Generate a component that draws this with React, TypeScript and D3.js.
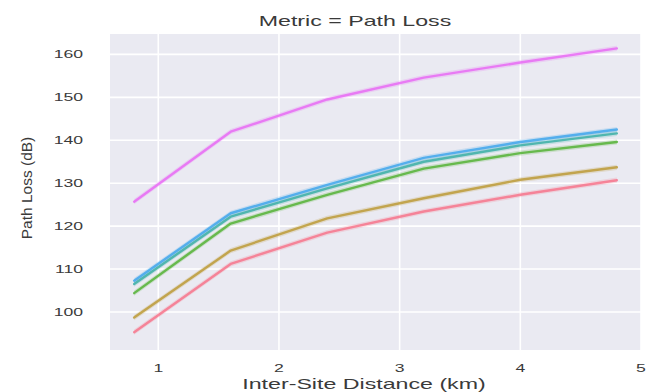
import React from "react";
import * as d3 from "d3";

const distances = [0.8, 1.6, 2.4, 3.2, 4.0, 4.8];
const seriesNames = ["s1", "s2", "s3", "s4", "s5", "s6"];
const redVals = [95.3, 111.2, 118.5, 123.4, 127.3, 130.7];
const oliveVals = [98.7, 114.3, 121.8, 126.5, 130.8, 133.7];
const greenVals = [104.4, 120.6, 127.3, 133.4, 137.0, 139.6];
const tealVals = [106.5, 122.2, 128.8, 135.0, 138.8, 141.6];
const blueVals = [107.3, 123.0, 129.6, 135.9, 139.6, 142.5];
const magentaVals = [125.7, 142.0, 149.5, 154.6, 158.1, 161.4];
const seriesValues = [redVals, oliveVals, greenVals, tealVals, blueVals, magentaVals];
const seriesColors = ["#f77189", "#bb9832", "#50b131", "#36ada4", "#3ba3ec", "#e866f4"];
const xTicks = [1, 2, 3, 4, 5];
const yTicks = [100, 110, 120, 130, 140, 150, 160];
const title = "Metric = Path Loss";
const xLabel = "Inter-Site Distance (km)";
const yLabel = "Path Loss (dB)";

const W = 646;
const H = 392;
const left = 110;
const right = 641;
const top = 34;
const bottom = 350;
const SX = 1.6;
const FONT = "'Liberation Sans', Arial, sans-serif";
const TXT = "#3a3a3a";

export default function App() {
  const x = d3.scaleLinear().domain([0.6, 5.0]).range([left, right]);
  const y = d3.scaleLinear().domain([91.15, 164.75]).range([bottom, top]);
  const line = d3
    .line<number>()
    .x((_, i) => x(distances[i]))
    .y((d) => y(d));
  const band = d3
    .area<number>()
    .x((_, i) => x(distances[i]))
    .y0((d) => y(d - 0.6))
    .y1((d) => y(d + 0.6));

  return (
    <svg
      width={W}
      height={H}
      style={{ position: "absolute", left: 0, top: 0, background: "#fff" }}
      fontFamily={FONT}
    >
      <defs>
        <clipPath id="plotclip">
          <rect x={left} y={top} width={right - left} height={bottom - top} />
        </clipPath>
      </defs>
      <rect x={left} y={top} width={right - left} height={bottom - top} fill="#EAEAF2" />
      {xTicks.map((t) => (
        <line key={"gx" + t} x1={x(t)} x2={x(t)} y1={top} y2={bottom} stroke="#fff" strokeWidth={1.6} />
      ))}
      {yTicks.map((t) => (
        <line key={"gy" + t} x1={left} x2={right} y1={y(t)} y2={y(t)} stroke="#fff" strokeWidth={1.6} />
      ))}
      <g clipPath="url(#plotclip)">
        {seriesValues.map((vals, i) => (
          <path key={"b" + seriesNames[i]} d={band(vals) || ""} fill={seriesColors[i]} opacity={0.2} />
        ))}
        {seriesValues.map((vals, i) => (
          <path
            key={"l" + seriesNames[i]}
            d={line(vals) || ""}
            fill="none"
            stroke={seriesColors[i]}
            strokeWidth={2.4}
            strokeOpacity={0.82}
            strokeLinejoin="round"
            strokeLinecap="round"
          />
        ))}
      </g>
      {yTicks.map((t) => (
        <text
          key={"ty" + t}
          transform={`translate(83,${y(t) + 4}) scale(${SX},1)`}
          textAnchor="end"
          fontSize={11}
          fill={TXT}
        >
          {t}
        </text>
      ))}
      {xTicks.map((t) => (
        <text
          key={"tx" + t}
          transform={`translate(${x(t)},372) scale(${SX},1)`}
          textAnchor="middle"
          fontSize={11}
          fill={TXT}
        >
          {t}
        </text>
      ))}
      <text
        transform={`translate(355,26) scale(${SX},1)`}
        textAnchor="middle"
        fontSize={14.5}
        fill={TXT}
      >
        {title}
      </text>
      <text
        transform={`translate(364,389) scale(${SX},1)`}
        textAnchor="middle"
        fontSize={14.5}
        fill={TXT}
      >
        {xLabel}
      </text>
      <text
        transform={`translate(32,188) rotate(-90)`}
        textAnchor="middle"
        fontSize={15.5}
        fill={TXT}
      >
        {yLabel}
      </text>
    </svg>
  );
}
